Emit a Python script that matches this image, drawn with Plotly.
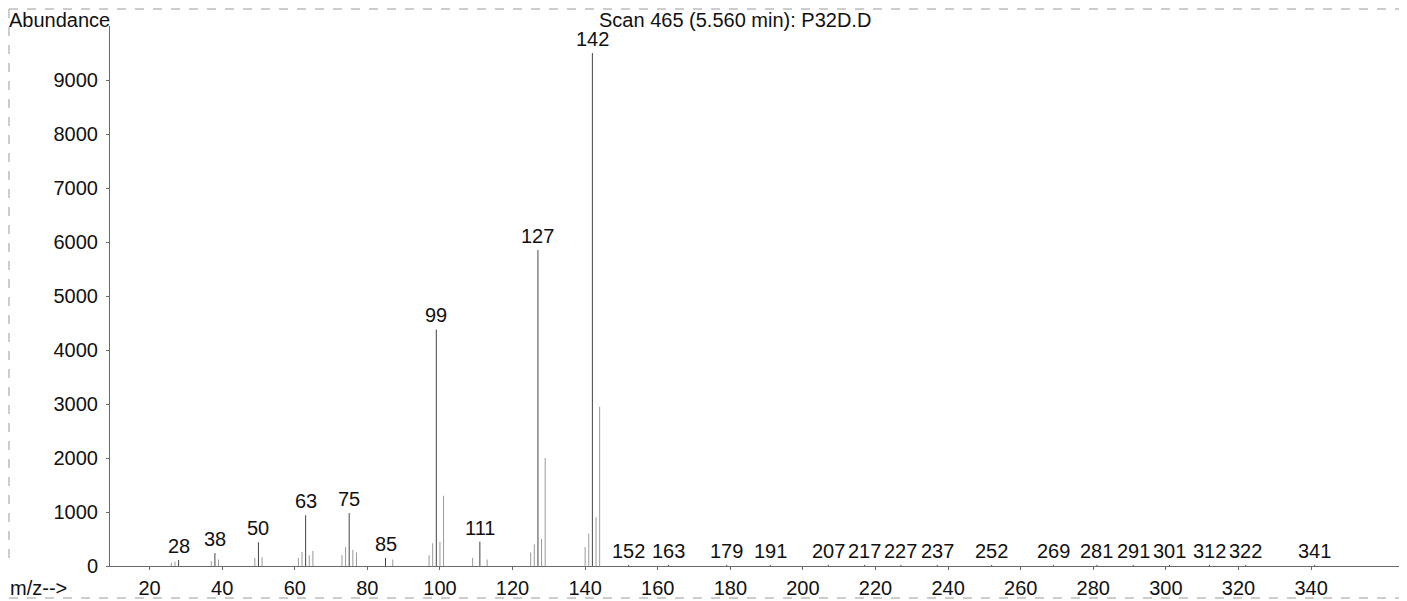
import plotly.graph_objects as go

# ---- data ----
labeled_mz = [28, 38, 50, 63, 75, 85, 99, 111, 127, 142,
              152, 163, 179, 191, 207, 217, 227, 237, 252,
              269, 281, 291, 301, 312, 322, 341]
labeled_ab = [110, 240, 440, 940, 980, 150, 4380, 450, 5850, 9500,
              20, 20, 20, 20, 20, 20, 20, 20, 20,
              20, 20, 20, 20, 20, 20, 20]
minor_mz = [26, 27, 37, 39, 49, 51, 61, 62, 64, 65, 73, 74, 76, 77, 87, 97, 98, 100, 101,
            109, 113, 125, 126, 128, 129, 140, 141, 143, 144]
minor_ab = [60, 80, 90, 120, 150, 160, 150, 260, 200, 280, 200, 350, 300, 250, 120, 200, 420, 450, 1300,
            150, 120, 250, 400, 500, 2000, 350, 600, 900, 2950]
y_ticks = [0, 1000, 2000, 3000, 4000, 5000, 6000, 7000, 8000, 9000]
x_ticks = [20, 40, 60, 80, 100, 120, 140, 160, 180, 200, 220, 240, 260, 280, 300, 320, 340]
title_text = "Scan 465 (5.560 min): P32D.D"
y_title = "Abundance"
x_title = "m/z-->"

# ---- layout geometry (page body has an 8px margin) ----
OFF = 8
W, H = 1407 - OFF, 601 - OFF
# target plot box in screen pixels: left 110, right 1400, top 26, bottom 566
ML = 110 - OFF
MR = W - (1400 - OFF)
MT = 26 - OFF
MB = H - (566 - OFF)
PW, PH = W - ML - MR, H - MT - MB
def px(x):   # screen x -> paper
    return (x - OFF - ML) / PW
def py(y):   # screen y -> paper
    return (H - MB - (y - OFF)) / PH

FONT = "Liberation Sans, Arial, sans-serif"
FS = 20

def sticks(mz, ab):
    xs, ys = [], []
    for m, a in zip(mz, ab):
        xs += [m, m, None]
        ys += [0, a, None]
    return xs, ys

fig = go.Figure()
mx, my = sticks(minor_mz, minor_ab)
fig.add_trace(go.Scatter(x=mx, y=my, mode="lines",
                         line=dict(color="#9a9a9a", width=1), hoverinfo="skip", showlegend=False))
lx, ly = sticks(labeled_mz, labeled_ab)
fig.add_trace(go.Scatter(x=lx, y=ly, mode="lines",
                         line=dict(color="#444444", width=1), hoverinfo="skip", showlegend=False))

for m, a in zip(labeled_mz, labeled_ab):
    fig.add_annotation(x=m, y=a, text=str(m), showarrow=False, xref="x", yref="y",
                       yanchor="bottom", yshift=1, font=dict(size=FS, color="#111", family=FONT))

fig.add_annotation(x=px(8), y=py(8), xref="paper", yref="paper", text=y_title, showarrow=False,
                   xanchor="left", yanchor="top", borderpad=0,
                   font=dict(size=FS, color="#111", family=FONT))
fig.add_annotation(x=px(598), y=py(8), xref="paper", yref="paper", text=title_text, showarrow=False,
                   xanchor="left", yanchor="top", borderpad=0,
                   font=dict(size=20, color="#111", family=FONT))
fig.add_annotation(x=px(8), y=py(588), xref="paper", yref="paper", text=x_title, showarrow=False,
                   xanchor="left", yanchor="middle", font=dict(size=FS, color="#111", family=FONT))

# scanned frame lines
frame = dict(color="#9a9a9a", width=1, dash="dash")
fig.add_shape(type="line", xref="paper", yref="paper", x0=px(9), x1=px(1400), y0=py(9), y1=py(9), line=frame)
fig.add_shape(type="line", xref="paper", yref="paper", x0=px(9), x1=px(1400), y0=py(598), y1=py(598), line=frame)
fig.add_shape(type="line", xref="paper", yref="paper", x0=px(9), x1=px(9), y0=py(9), y1=py(560), line=frame)

fig.update_xaxes(range=[9.1, 364.5], tickmode="array", tickvals=x_ticks,
                 ticktext=[str(t) for t in x_ticks], showgrid=False, zeroline=False,
                 showline=True, linecolor="#6a6a6a", linewidth=1, ticks="outside", ticklen=3,
                 tickcolor="#6a6a6a", automargin=False, ticklabelstandoff=1,
                 tickfont=dict(size=FS, color="#111", family=FONT))
fig.update_yaxes(range=[0, 10000], tickmode="array", tickvals=y_ticks,
                 ticktext=[str(t) for t in y_ticks], showgrid=False, zeroline=False,
                 showline=True, linecolor="#6a6a6a", linewidth=1, ticks="outside", ticklen=3,
                 tickcolor="#6a6a6a", automargin=False, ticklabelstandoff=4,
                 tickfont=dict(size=FS, color="#111", family=FONT))

fig.update_layout(width=W, height=H, margin=dict(l=ML, r=MR, t=MT, b=MB, autoexpand=False),
                  paper_bgcolor="white", plot_bgcolor="white", showlegend=False)

fig.write_html("out.html")
